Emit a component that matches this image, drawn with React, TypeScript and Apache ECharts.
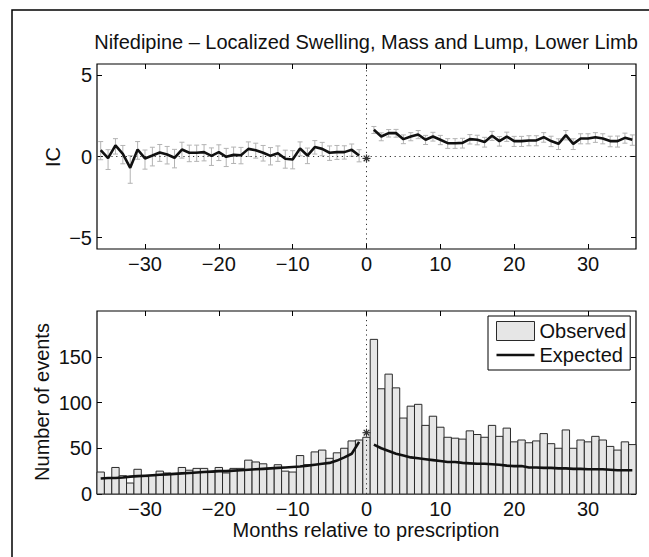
import React, { useEffect, useRef } from 'react';
import * as echarts from 'echarts';

const FONT = "'Liberation Sans', Arial, Helvetica, sans-serif";
const FS = 20;

const xTicks = [-30, -20, -10, 0, 10, 20, 30];
const icTicks = [-5, 0, 5];
const countTicks = [0, 50, 100, 150];

const preMonths = Array.from({ length: 36 }, (_, i) => i - 36);
const postMonths = Array.from({ length: 36 }, (_, i) => i + 1);
const allMonths = Array.from({ length: 73 }, (_, i) => i - 36);

// IC before prescription (months -36..-1)
const icPre = [0.39, -0.1, 0.68, 0.16, -0.7, 0.43, -0.12, 0.06, 0.25, 0.12, -0.08, 0.43, 0.23, 0.23, 0.27, 0.04, 0.27, -0.02, 0.1, 0.08, 0.47, 0.39, 0.23, 0.04, 0.2, -0.14, -0.18, 0.49, 0.06, 0.58, 0.47, 0.23, 0.27, 0.27, 0.41, 0.06];
const icPreLo = [-0.2, -0.8, 0.15, -0.45, -1.65, -0.17, -0.78, -0.58, -0.3, -0.46, -0.7, -0.1, -0.32, -0.3, -0.27, -0.55, -0.25, -0.62, -0.43, -0.45, 0.0, -0.1, -0.28, -0.52, -0.3, -0.72, -0.76, 0.04, -0.44, 0.15, 0.05, -0.24, -0.18, -0.16, 0.02, -0.33];
const icPreHi = [0.92, 0.42, 1.1, 0.68, 0.05, 0.92, 0.4, 0.57, 0.74, 0.62, 0.44, 0.88, 0.7, 0.7, 0.73, 0.53, 0.72, 0.5, 0.58, 0.56, 0.9, 0.82, 0.68, 0.55, 0.65, 0.39, 0.36, 0.9, 0.52, 0.98, 0.87, 0.65, 0.68, 0.66, 0.77, 0.42];

// IC after prescription (months 1..36)
const icPost = [1.65, 1.23, 1.44, 1.44, 1.07, 1.23, 1.36, 1.03, 1.23, 1.03, 0.82, 0.82, 0.84, 1.07, 1.03, 0.9, 1.28, 0.95, 1.23, 0.95, 0.95, 0.99, 0.99, 1.19, 0.95, 0.78, 1.32, 0.78, 1.11, 1.11, 1.19, 1.11, 0.95, 0.95, 1.15, 1.03];
const icPostLo = [1.42, 0.97, 1.2, 1.19, 0.79, 0.97, 1.1, 0.74, 0.95, 0.73, 0.5, 0.5, 0.52, 0.77, 0.72, 0.58, 0.99, 0.64, 0.93, 0.62, 0.62, 0.66, 0.66, 0.88, 0.61, 0.43, 1.02, 0.43, 0.78, 0.78, 0.87, 0.78, 0.6, 0.58, 0.82, 0.69];
const icPostHi = [1.85, 1.46, 1.66, 1.67, 1.33, 1.47, 1.6, 1.3, 1.49, 1.3, 1.1, 1.1, 1.12, 1.35, 1.31, 1.18, 1.55, 1.23, 1.5, 1.24, 1.24, 1.28, 1.28, 1.47, 1.25, 1.09, 1.6, 1.09, 1.4, 1.4, 1.47, 1.4, 1.25, 1.26, 1.44, 1.33];
const icAtZero = -0.12;

// Observed events, months -36..36
const observed = [24, 17, 29, 20, 12, 27, 19, 20, 25, 23, 22, 29, 26, 28, 28, 24, 29, 23, 28, 28, 37, 35, 33, 28, 32, 25, 24, 42, 32, 46, 48, 39, 45, 50, 58, 59,
  62,
  169, 115, 131, 116, 83, 96, 98, 75, 85, 73, 62, 61, 60, 69, 65, 62, 75, 63, 72, 57, 59, 56, 58, 66, 55, 50, 70, 50, 59, 57, 63, 59, 52, 48, 57, 54];
// Expected events
const expectedPre = [17, 17.5, 17.5, 18, 19, 19.5, 20, 20.5, 21, 21.5, 22, 22.5, 23, 23.5, 24, 24.5, 25, 25, 25.5, 26, 26.5, 27, 27.5, 28, 28.5, 29, 29.5, 30, 31, 32, 33, 34, 36.5, 40, 44, 57];
const expectedPost = [54, 50, 47, 44, 42, 40, 39, 38, 37, 36, 35, 35, 34, 33.5, 33, 33, 32.5, 32, 31, 30.5, 30.5, 29, 29, 28.5, 28.5, 28, 28, 27.5, 27.5, 27, 27, 27, 26.5, 26, 26, 26];
const observedStarAtZero = 67;

const X_MIN = -36.5;
const X_MAX = 36.5;
const IC_MIN = -5.7;
const IC_MAX = 5.7;
const N_MAX = 200;

const minusFmt = (v: number) => (v < 0 ? '\u2212' + Math.abs(v) : String(v));

function xAxis(gridIndex: number, position: string, showLabel: boolean) {
  return {
    type: 'value', gridIndex, position, min: X_MIN, max: X_MAX,
    axisLine: { show: false, onZero: false },
    axisTick: { show: true, inside: true, length: 5, customValues: xTicks, lineStyle: { color: '#000', width: 1 } },
    axisLabel: { show: showLabel, customValues: xTicks, margin: 5, fontSize: FS, color: '#111', fontFamily: FONT, formatter: minusFmt },
    splitLine: { show: false },
  };
}
function yAxis(gridIndex: number, position: string, showLabel: boolean, min: number, max: number, ticks: number[]) {
  return {
    type: 'value', gridIndex, position, min, max,
    axisLine: { show: false, onZero: false },
    axisTick: { show: true, inside: true, length: 5, customValues: ticks, lineStyle: { color: '#000', width: 1 } },
    axisLabel: { show: showLabel, customValues: ticks, margin: 5, fontSize: FS, color: '#111', fontFamily: FONT, formatter: minusFmt },
    splitLine: { show: false },
  };
}

const errRender = (params: any, api: any) => {
  const x = api.value(0);
  const lo = api.coord([x, api.value(1)]);
  const hi = api.coord([x, api.value(2)]);
  const w = 2.5;
  const st = { stroke: '#b3b3b3', lineWidth: 1 };
  return {
    type: 'group',
    children: [
      { type: 'line', shape: { x1: lo[0], y1: lo[1], x2: hi[0], y2: hi[1] }, style: st },
      { type: 'line', shape: { x1: lo[0] - w, y1: lo[1], x2: lo[0] + w, y2: lo[1] }, style: st },
      { type: 'line', shape: { x1: hi[0] - w, y1: hi[1], x2: hi[0] + w, y2: hi[1] }, style: st },
    ],
  };
};

const barRender = (params: any, api: any) => {
  const x = api.value(0);
  const y = api.value(1);
  const p0 = api.coord([x - 0.5, y]);
  const p1 = api.coord([x + 0.5, 0]);
  return {
    type: 'rect',
    shape: { x: p0[0], y: p0[1], width: p1[0] - p0[0], height: p1[1] - p0[1] },
    style: { fill: '#e6e6e6', stroke: '#2a2a2a', lineWidth: 1 },
  };
};

const starRender = (params: any, api: any) => {
  const c = api.coord([api.value(0), api.value(1)]);
  const r = 4;
  return {
    type: 'group',
    children: [0, 45, 90, 135].map((a) => {
      const rad = (a * Math.PI) / 180;
      const dx = r * Math.cos(rad);
      const dy = r * Math.sin(rad);
      return { type: 'line', shape: { x1: c[0] - dx, y1: c[1] - dy, x2: c[0] + dx, y2: c[1] + dy }, style: { stroke: '#333', lineWidth: 1.2 } };
    }),
  };
};

const dotted = { color: '#333', width: 1, type: [1.2, 3.6] };

export default function App() {
  const ref = useRef<HTMLDivElement>(null);
  useEffect(() => {
    const chart = echarts.init(ref.current!, null, { renderer: 'svg', width: 649, height: 557 });
    const option: any = {
      animation: false,
      backgroundColor: '#fff',
      textStyle: { fontFamily: FONT },
      grid: [
        { left: 97, top: 64, width: 539, height: 185, show: true, borderColor: '#000', borderWidth: 1.2, backgroundColor: 'transparent', containLabel: false, outerBoundsMode: 'none' },
        { left: 97, top: 311, width: 539, height: 183, show: true, borderColor: '#000', borderWidth: 1.2, backgroundColor: 'transparent', containLabel: false, outerBoundsMode: 'none' },
      ],
      xAxis: [xAxis(0, 'bottom', true), xAxis(0, 'top', false), xAxis(1, 'bottom', true), xAxis(1, 'top', false)],
      yAxis: [
        yAxis(0, 'left', true, IC_MIN, IC_MAX, icTicks),
        yAxis(0, 'right', false, IC_MIN, IC_MAX, icTicks),
        yAxis(1, 'left', true, 0, N_MAX, countTicks),
        yAxis(1, 'right', false, 0, N_MAX, countTicks),
      ],
      legend: {
        orient: 'vertical', left: 488, top: 316,
        padding: [5, 4, 5, 8], itemGap: 4, itemWidth: 38, itemHeight: 19,
        borderColor: '#000', borderWidth: 1, backgroundColor: '#fff',
        textStyle: { fontSize: FS, color: '#111', fontFamily: FONT },
        selectedMode: false,
        symbolKeepAspect: true,
        data: [
          { name: 'Observed', icon: 'rect', itemStyle: { color: '#e6e6e6', borderColor: '#2a2a2a', borderWidth: 1 } },
          { name: 'Expected', icon: 'path://M0,0 L38,0 L38,2.6 L0,2.6 Z', itemStyle: { color: '#111', borderWidth: 0 } },
        ],
      },
      series: [
        {
          type: 'custom', name: 'icErrPre', xAxisIndex: 0, yAxisIndex: 0, renderItem: errRender,
          encode: { x: 0, y: [1, 2] }, data: preMonths.map((m, i) => [m, icPreLo[i], icPreHi[i]]), z: 2,
        },
        {
          type: 'custom', name: 'icErrPost', xAxisIndex: 0, yAxisIndex: 0, renderItem: errRender,
          encode: { x: 0, y: [1, 2] }, data: postMonths.map((m, i) => [m, icPostLo[i], icPostHi[i]]), z: 2,
        },
        { type: 'line', name: 'zeroV', xAxisIndex: 0, yAxisIndex: 0, symbol: 'none', lineStyle: dotted, data: [[0, IC_MIN], [0, IC_MAX]], z: 3 },
        { type: 'line', name: 'zeroH', xAxisIndex: 0, yAxisIndex: 0, symbol: 'none', lineStyle: dotted, data: [[X_MIN, 0], [X_MAX, 0]], z: 3 },
        { type: 'line', name: 'icPre', xAxisIndex: 0, yAxisIndex: 0, symbol: 'none', lineStyle: { color: '#111', width: 2.6 }, data: preMonths.map((m, i) => [m, icPre[i]]), z: 4 },
        { type: 'line', name: 'icPost', xAxisIndex: 0, yAxisIndex: 0, symbol: 'none', lineStyle: { color: '#111', width: 2.6 }, data: postMonths.map((m, i) => [m, icPost[i]]), z: 4 },
        { type: 'custom', name: 'starTop', xAxisIndex: 0, yAxisIndex: 0, renderItem: starRender, data: [[0, icAtZero]], z: 5 },

        {
          type: 'custom', name: 'Observed', xAxisIndex: 2, yAxisIndex: 2, renderItem: barRender,
          itemStyle: { color: '#e6e6e6', borderColor: '#2a2a2a', borderWidth: 1 },
          encode: { x: 0, y: 1 }, data: allMonths.map((m, i) => [m, observed[i]]), z: 2,
        },
        { type: 'line', name: 'zeroV2', xAxisIndex: 2, yAxisIndex: 2, symbol: 'none', lineStyle: dotted, data: [[0, 0], [0, N_MAX]], z: 3 },
        { type: 'line', name: 'Expected', xAxisIndex: 2, yAxisIndex: 2, symbol: 'none', itemStyle: { color: '#111' }, lineStyle: { color: '#111', width: 2.6 }, data: preMonths.map((m, i) => [m, expectedPre[i]]), z: 4 },
        { type: 'line', name: 'Expected', xAxisIndex: 2, yAxisIndex: 2, symbol: 'none', itemStyle: { color: '#111' }, lineStyle: { color: '#111', width: 2.6 }, data: postMonths.map((m, i) => [m, expectedPost[i]]), z: 4 },
        { type: 'custom', name: 'starBottom', xAxisIndex: 2, yAxisIndex: 2, renderItem: starRender, data: [[0, observedStarAtZero]], z: 5 },
      ],
      graphic: [
        { type: 'polyline', shape: { points: [[12, 557], [12, 10], [649, 10]] }, style: { stroke: '#000', lineWidth: 1.5, fill: 'none' }, silent: true },
        { type: 'text', x: 366, y: 42, style: { text: 'Nifedipine \u2013 Localized Swelling, Mass and Lump, Lower Limb', fontSize: FS, fontFamily: FONT, fill: '#111', align: 'center', verticalAlign: 'middle' } },
        { type: 'text', x: 53, y: 157, rotation: Math.PI / 2, style: { text: 'IC', fontSize: FS, fontFamily: FONT, fill: '#111', align: 'center', verticalAlign: 'middle' } },
        { type: 'text', x: 42, y: 402, rotation: Math.PI / 2, style: { text: 'Number of events', fontSize: FS, fontFamily: FONT, fill: '#111', align: 'center', verticalAlign: 'middle' } },
        { type: 'text', x: 366, y: 530, style: { text: 'Months relative to prescription', fontSize: FS, fontFamily: FONT, fill: '#111', align: 'center', verticalAlign: 'middle' } },
      ],
    };
    chart.setOption(option);
    return () => chart.dispose();
  }, []);
  return <div ref={ref} style={{ position: 'absolute', left: 0, top: 0, width: 649, height: 557, background: '#fff' }} />;
}
